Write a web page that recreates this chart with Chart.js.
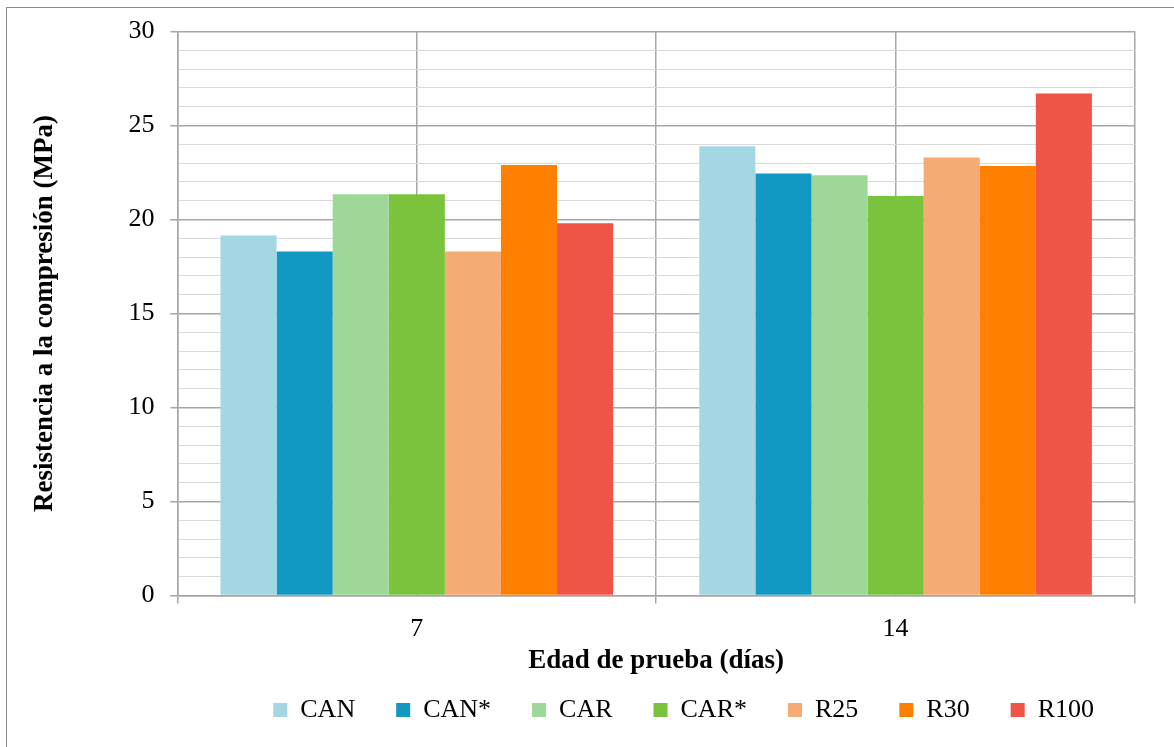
<!DOCTYPE html>
<html>
<head>
<meta charset="utf-8">
<script src="https://cdn.jsdelivr.net/npm/chart.js@4"></script>
<style>
  body { margin: 0; background: #fff; }
  #wrap { position: relative; width: 1174px; height: 747px; overflow: hidden; }
  #frame { position: absolute; left: 6px; top: 7px; width: 1200px; height: 800px; border: 1.5px solid #8c8c8c; box-sizing: border-box; pointer-events: none; }
</style>
</head>
<body>
<div id="wrap">
  <canvas id="chart" width="1174" height="747"></canvas>
  <div id="frame"></div>
</div>
<script>
const categories = ["7", "14"];
const seriesNames = ["CAN", "CAN*", "CAR", "CAR*", "R25", "R30", "R100"];
const can = [19.15, 23.9];
const canStar = [18.3, 22.45];
const car = [21.35, 22.35];
const carStar = [21.35, 21.25];
const r25 = [18.3, 23.3];
const r30 = [22.9, 22.85];
const r100 = [19.8, 26.7];
const colors = ["#a5d6e4", "#1198c3", "#9ed899", "#7bc33c", "#f4ab74", "#ff8000", "#f05446"];

const MAJOR = "#a6a6a6";
const MINOR = "#d9d9d9";
const FONT = "'Liberation Serif', 'Times New Roman', serif";

function isMajor(c) {
  return c.tick && c.tick.value % 5 === 0;
}

function initChart() {
  const values = [can, canStar, car, carStar, r25, r30, r100];
  const ctx = document.getElementById("chart").getContext("2d");

  new Chart(ctx, {
    type: "bar",
    data: {
      labels: categories,
      datasets: seriesNames.map((name, i) => ({
        label: name,
        data: values[i],
        backgroundColor: colors[i],
        borderWidth: 0,
        barPercentage: 1,
        categoryPercentage: 0.82,
      })),
    },
    options: {
      responsive: false,
      animation: false,
      layout: { padding: { left: 18, right: 39, top: 27, bottom: 14 } },
      plugins: {
        tooltip: { enabled: false },
        legend: {
          position: "bottom",
          align: "end",
          fullSize: false,
          labels: {
            color: "#000",
            font: { family: FONT, size: 26 },
            boxWidth: 14,
            boxHeight: 14,
            padding: 41,
          },
        },
      },
      scales: {
        x: {
          offset: true,
          grid: { offset: true, color: MAJOR, lineWidth: 1.5, tickLength: 8, tickColor: MAJOR },
          border: { color: MAJOR, width: 1.5 },
          ticks: { color: "#000", font: { family: FONT, size: 26 }, padding: 10 },
          title: {
            display: true,
            text: "Edad de prueba (días)",
            color: "#000",
            font: { family: FONT, size: 27, weight: "bold" },
            padding: { top: -10, bottom: -21 },
          },
        },
        x2: {
          position: "top",
          offset: true,
          grid: { offset: false, color: MAJOR, lineWidth: 1.5, drawTicks: false },
          border: { display: false },
          ticks: { display: false },
        },
        y: {
          min: 0,
          max: 30,
          grid: {
            color: (c) => (isMajor(c) ? MAJOR : MINOR),
            lineWidth: (c) => (isMajor(c) ? 1.5 : 1),
            tickLength: 7,
            tickColor: (c) => (isMajor(c) ? MAJOR : "rgba(0,0,0,0)"),
          },
          border: { color: MAJOR, width: 1.5 },
          ticks: {
            stepSize: 1,
            autoSkip: false,
            color: "#000",
            font: { family: FONT, size: 26 },
            padding: 16,
            callback: (v) => (v % 5 === 0 ? v : ""),
          },
          title: {
            display: true,
            text: "Resistencia a la compresión (MPa)",
            color: "#000",
            font: { family: FONT, size: 27, weight: "bold" },
            padding: { top: 11, bottom: 51 },
          },
        },
      },
    },
  });
}

window.addEventListener("DOMContentLoaded", () => {
  initChart();
});
</script>
</body>
</html>
